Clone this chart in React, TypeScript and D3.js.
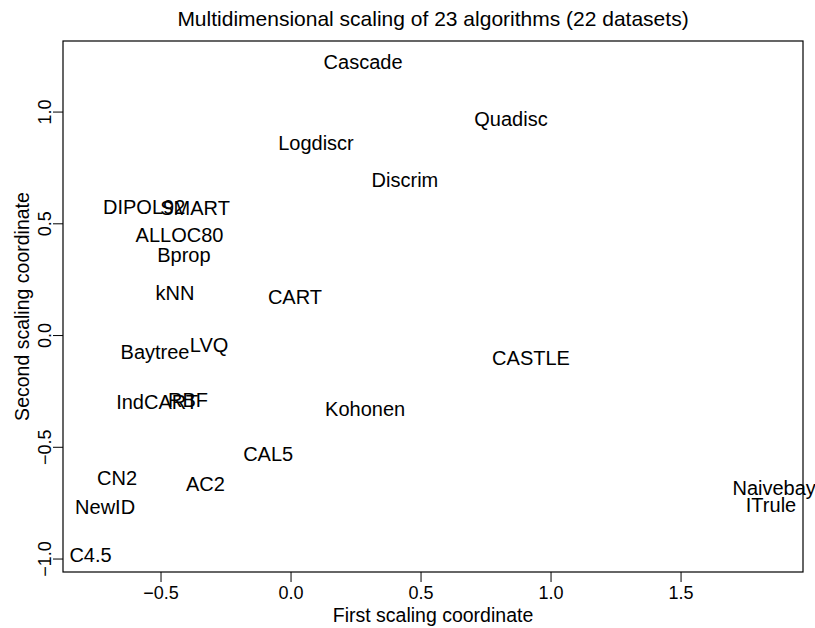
import React from "react";
import * as d3 from "d3";

const names = ["Cascade","Quadisc","Logdiscr","Discrim","DIPOL92","SMART","ALLOC80","Bprop","kNN","CART","Baytree","LVQ","CASTLE","IndCART","RBF","Kohonen","CAL5","CN2","AC2","NewID","C4.5","Naivebay","ITrule"];
const xCoord = [0.277,0.846,0.096,0.438,-0.565,-0.369,-0.429,-0.412,-0.446,0.015,-0.523,-0.315,0.923,-0.515,-0.396,0.285,-0.088,-0.669,-0.329,-0.715,-0.771,1.858,1.846];
const yCoord = [1.224,0.969,0.861,0.695,0.575,0.570,0.450,0.360,0.190,0.172,-0.074,-0.042,-0.101,-0.298,-0.289,-0.329,-0.530,-0.638,-0.664,-0.767,-0.982,-0.682,-0.758];
const xTicks = [-0.5, 0.0, 0.5, 1.0, 1.5];
const yTicks = [-1.0, -0.5, 0.0, 0.5, 1.0];
const title = "Multidimensional scaling of 23 algorithms (22 datasets)";
const xTitle = "First scaling coordinate";
const yTitle = "Second scaling coordinate";

const W = 815, H = 628;
const L = 63, R = 803, T = 41, B = 572;
const FONT = "'Liberation Sans', Arial, Helvetica, sans-serif";

export default function App() {
  const x = d3.scaleLinear().domain([-0.877, 1.969]).range([L, R]);
  const y = d3.scaleLinear().domain([-1.058, 1.318]).range([B, T]);
  const fmt = d3.format(".1f");
  return (
    <svg width={W} height={H} style={{ position: "absolute", left: 0, top: 0, background: "#fff" }} fontFamily={FONT}>
      <rect x={0} y={0} width={W} height={H} fill="#fff" />
      <text x={(L + R) / 2} y={18} textAnchor="middle" dominantBaseline="central" fontSize={21}>{title}</text>
      <rect x={L} y={T} width={R - L} height={B - T} fill="none" stroke="#000" strokeWidth={1.2} />
      {xTicks.map((t) => (
        <g key={"x" + t}>
          <line x1={x(t)} x2={x(t)} y1={B} y2={B + 10} stroke="#000" strokeWidth={1} />
          <text x={x(t)} y={593} textAnchor="middle" dominantBaseline="central" fontSize={18}>{fmt(t)}</text>
        </g>
      ))}
      {yTicks.map((t) => (
        <g key={"y" + t}>
          <line x1={L - 10} x2={L} y1={y(t)} y2={y(t)} stroke="#000" strokeWidth={1} />
          <text transform={`translate(45,${y(t)}) rotate(-90)`} textAnchor="middle" dominantBaseline="central" fontSize={18}>{fmt(t)}</text>
        </g>
      ))}
      <text x={(L + R) / 2} y={615} textAnchor="middle" dominantBaseline="central" fontSize={19.5}>{xTitle}</text>
      <text transform={`translate(22,${(T + B) / 2}) rotate(-90)`} textAnchor="middle" dominantBaseline="central" fontSize={19.5}>{yTitle}</text>
      {names.map((n, i) => (
        <text key={n} x={x(xCoord[i])} y={y(yCoord[i])} dy="0.36em" textAnchor="middle" fontSize={20}>{n}</text>
      ))}
    </svg>
  );
}
